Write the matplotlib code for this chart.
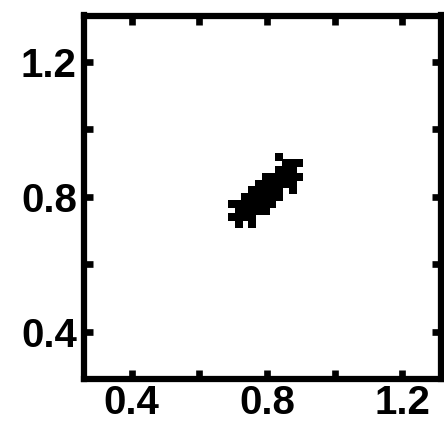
import matplotlib
matplotlib.use('Agg')
import matplotlib.pyplot as plt

# points of the cloud (one value per visible block)
xs = [0.836,
      0.856, 0.876, 0.896,
      0.836, 0.856, 0.876,
      0.796, 0.816, 0.836, 0.856, 0.876, 0.896,
      0.776, 0.796, 0.816, 0.836, 0.856, 0.876,
      0.756, 0.776, 0.796, 0.816, 0.836, 0.876,
      0.736, 0.756, 0.776, 0.796, 0.816, 0.836,
      0.696, 0.716, 0.736, 0.756, 0.776, 0.796, 0.816,
      0.716, 0.736, 0.756, 0.776, 0.796,
      0.696, 0.716, 0.736, 0.756,
      0.716, 0.756]
ys = [0.919,
      0.899, 0.899, 0.899,
      0.879, 0.879, 0.879,
      0.859, 0.859, 0.859, 0.859, 0.859, 0.859,
      0.839, 0.839, 0.839, 0.839, 0.839, 0.839,
      0.819, 0.819, 0.819, 0.819, 0.819, 0.819,
      0.799, 0.799, 0.799, 0.799, 0.799, 0.799,
      0.779, 0.779, 0.779, 0.779, 0.779, 0.779, 0.779,
      0.759, 0.759, 0.759, 0.759, 0.759,
      0.739, 0.739, 0.739, 0.739,
      0.719, 0.719]

ticks = [0.4, 0.6, 0.8, 1.0, 1.2]
tick_labels = ['0.4', '', '0.8', '', '1.2']

plt.rcParams['font.family'] = ['Liberation Sans', 'DejaVu Sans']

fig = plt.figure(figsize=(4.44, 4.24), dpi=100)
ax = fig.add_axes([83.8 / 444, 1 - 379.3 / 424, (441 - 83.8) / 444, (379.3 - 15.5) / 424])

ax.scatter(xs, ys, marker='s', s=5.1 ** 2, c='black', linewidths=0)

ax.set_xlim(0.258, 1.315)
ax.set_ylim(0.259, 1.337)
ax.set_xticks(ticks)
ax.set_yticks(ticks)
ax.set_xticklabels(tick_labels)
ax.set_yticklabels(tick_labels)
ax.tick_params(direction='in', length=6.3, width=4.8, top=True, right=True,
               labelsize=29)
ax.tick_params(axis='x', pad=3.5)
ax.tick_params(axis='y', pad=5)
for lab in ax.get_xticklabels() + ax.get_yticklabels():
    lab.set_fontweight('bold')
for sp in ax.spines.values():
    sp.set_linewidth(4.5)

fig.savefig('out.png', dpi=100)
